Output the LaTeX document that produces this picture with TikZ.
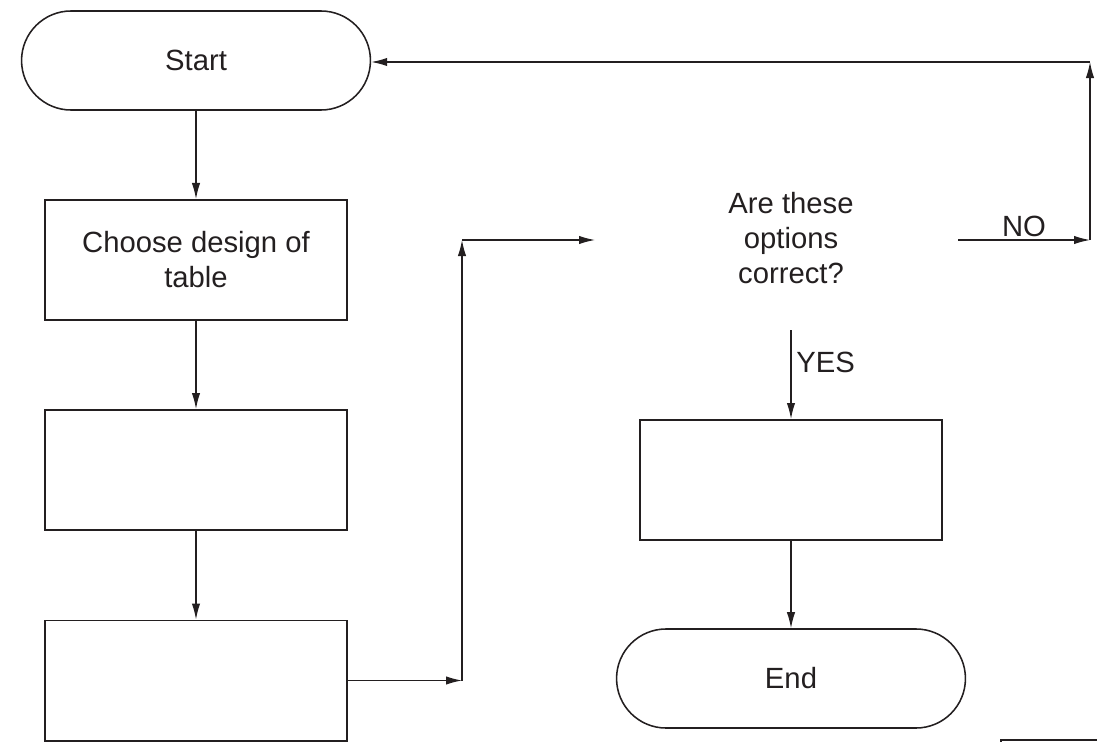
\documentclass[tikz,border=0pt]{standalone}
\usepackage{fontspec}
\setmainfont{Liberation Sans}
\usetikzlibrary{arrows.meta}
\definecolor{encre}{RGB}{35,31,32}
\tikzset{
  txt/.style={font=\fontsize{20.8}{24.9}\selectfont, text=encre, align=center},
  lbl/.style={font=\fontsize{20.8}{24.9}\selectfont, text=encre},
  boite/.style={txt, draw=encre, line width=1.4pt, minimum width=7.55cm, minimum height=3cm, inner sep=0pt},
  terminal/.style={txt, draw=encre, line width=1.1pt, rounded corners=1.2375cm, minimum width=8.72cm, minimum height=2.475cm, inner sep=0pt},
  fleche/.style={draw=encre, line width=0.9pt, -{Latex[length=4mm,width=2.1mm]}},
  trait/.style={draw=encre, line width=0.9pt}
}
\begin{document}
\begin{tikzpicture}[x=0.025cm,y=-0.025cm]
\useasboundingbox (0,0) rectangle (1097,742);
%					Tracé des cases :
\node[terminal] (start) at (196,60.5) {Start};
\node[boite] (choix) at (196,260) {Choose design of\\table};
\node[boite] (case2) at (196,470) {};
\node[boite] (case3) at (196,680.5) {};
\node[txt] (test) at (791,238) {Are these\\options\\correct?};
\node[boite] (case4) at (791,480) {};
\node[terminal] (fin) at (791,678.5) {End};
%					Points de passage :
\coordinate (c2) at (462,240);
\coordinate (testG) at (595,240);
\coordinate (testD) at (958,240);
\coordinate (testB) at (791,330);
\coordinate (c3) at (1090,240);
\coordinate (c4) at (1090,62);
%					Tracé des flèches :
\draw[fleche] (start) -- (choix);
\draw[fleche] (choix) -- (case2);
\draw[fleche] (case2) -- (case3);
\draw[fleche] (case3.east) -- (case3.east -| c2);
\draw[fleche] (case3.east -| c2) -- (c2);
\draw[fleche] (c2) -- (testG);
\draw[fleche] (testD) -- node[lbl, above, inner sep=2pt] (non) {NO} (c3);
\draw[fleche] (c3) -- (c4);
\draw[fleche] (c4) -- (start.east |- c4);
\draw[fleche] (testB) -- node[lbl, right, pos=0.36] (oui) {YES} (case4);
\draw[fleche] (case4) -- (fin);
%					Case coupée en bas :
\draw[trait] (1001,742) -- (1001,740) -- (1097,740);
\end{tikzpicture}
\end{document}
